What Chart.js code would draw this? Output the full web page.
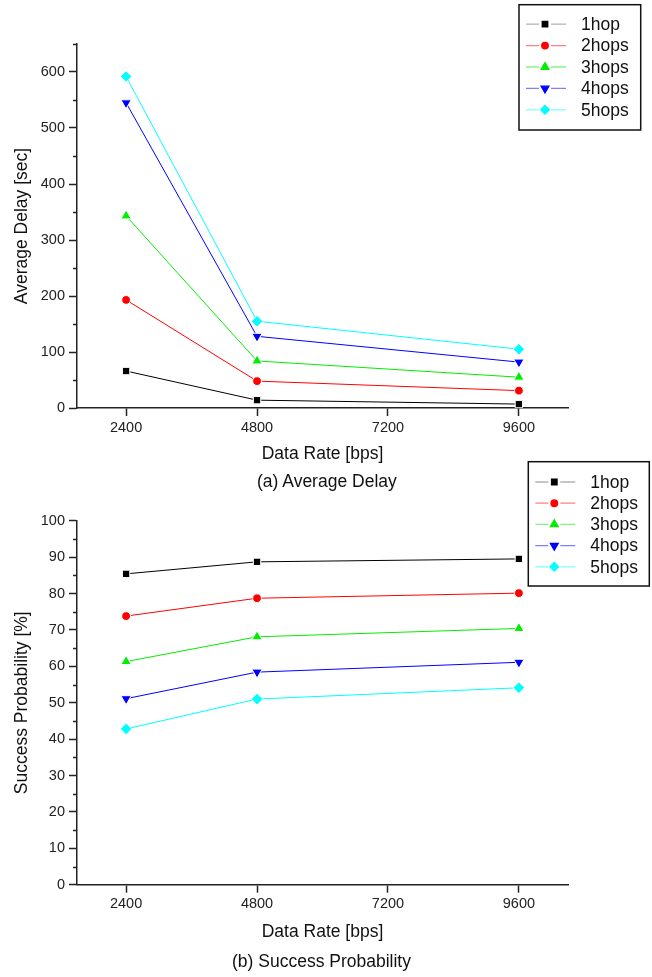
<!DOCTYPE html>
<html>
<head>
<meta charset="utf-8">
<script src="https://cdn.jsdelivr.net/npm/chart.js@4.4.0/dist/chart.umd.min.js"></script>
<style>
    body { margin: 0; background: #fff; }
    #page { position: relative; width: 652px; height: 977px; overflow: hidden; }
    canvas { position: absolute; left: 0; }
    .caption {
        position: absolute; white-space: nowrap;
        font: 17.5px 'Liberation Sans', Arial, sans-serif;
        line-height: 21px; color: #111;
    }
</style>
</head>
<body>
<div id="page">
    <canvas id="delayChart" width="652" height="470" style="top:0"></canvas>
    <canvas id="successChart" width="652" height="527" style="top:450px"></canvas>
    <div class="caption" style="left:257px; top:471px">(a) Average Delay</div>
    <div class="caption" style="left:232px; top:951px">(b) Success Probability</div>
</div>
<script>
// data rates [bps]
const rates = [2400, 4800, 9600];
const rateTicks = [2400, 4800, 7200, 9600];
const hopLabels = ['1hop', '2hops', '3hops', '4hops', '5hops'];

// (a) average delay [sec]
const delay1hop = [66, 14, 7];
const delay2hops = [193, 48, 31];
const delay3hops = [343, 84, 55];
const delay4hops = [545, 128, 82];
const delay5hops = [592, 155, 105];
const delayTicks = [0, 100, 200, 300, 400, 500, 600];

// (b) success probability [%]
const success1hop = [85.4, 88.7, 89.5];
const success2hops = [73.8, 78.7, 80.1];
const success3hops = [61.3, 68.1, 70.4];
const success4hops = [51.1, 58.4, 61.1];
const success5hops = [42.8, 51.0, 54.1];
const successTicks = [0, 10, 20, 30, 40, 50, 60, 70, 80, 90, 100];

const seriesStyles = [
    { color: '#000000', pointStyle: 'rect', rotation: 0, radius: 5.2 },
    { color: '#ff0000', pointStyle: 'circle', rotation: 0, radius: 4.4 },
    { color: '#00ee00', pointStyle: 'triangle', rotation: 0, radius: 6 },
    { color: '#0000ff', pointStyle: 'triangle', rotation: 180, radius: 6 },
    { color: '#00ffff', pointStyle: 'rectRot', rotation: 0, radius: 5.8 }
];

const FONT = "'Liberation Sans', Arial, sans-serif";
const AXIS = '#222';
Chart.defaults.font.family = FONT;
Chart.defaults.color = AXIS;

function withAlpha(hex, a) {
    const n = parseInt(hex.slice(1), 16);
    return `rgba(${n >> 16}, ${(n >> 8) & 255}, ${n & 255}, ${a})`;
}

// boxed legend placed over the top right corner, like the original figure
const boxLegend = {
    id: 'boxLegend',
    afterDraw(chart, args, opts) {
        const ctx = chart.ctx;
        ctx.save();
        ctx.lineWidth = 1.5;
        ctx.strokeStyle = '#111';
        ctx.fillStyle = '#fff';
        ctx.fillRect(opts.left, opts.top, opts.width, opts.height);
        ctx.strokeRect(opts.left, opts.top, opts.width, opts.height);
        ctx.font = '17.5px ' + FONT;
        ctx.textBaseline = 'middle';
        chart.data.datasets.forEach((ds, i) => {
            const y = opts.top + opts.firstRow + i * opts.rowStep;
            const mx = opts.left + 26;
            ctx.strokeStyle = withAlpha(ds.borderColor, ds.borderColor === '#000000' ? 0.3 : 0.5);
            ctx.lineWidth = 1.3;
            ctx.beginPath();
            ctx.moveTo(opts.left + 7, y);
            ctx.lineTo(mx - 6, y);
            ctx.moveTo(mx + 6, y);
            ctx.lineTo(opts.left + 47, y);
            ctx.stroke();
            ctx.fillStyle = ds.borderColor;
            ctx.strokeStyle = ds.borderColor;
            Chart.helpers.drawPoint(ctx, {
                pointStyle: ds.pointStyle,
                rotation: ds.pointRotation,
                radius: ds.pointRadius * 0.75,
                borderWidth: 0.5
            }, mx, y);
            ctx.fillStyle = '#111';
            ctx.fillText(ds.label, opts.left + 62, y + 1);
        });
        ctx.restore();
    }
};

// short minor ticks between the labelled ones on the y axis
const minorTicks = {
    id: 'minorTicks',
    afterDraw(chart, args, opts) {
        const y = chart.scales.y;
        const ctx = chart.ctx;
        ctx.save();
        ctx.strokeStyle = AXIS;
        ctx.lineWidth = 1.5;
        for (let v = y.min + opts.step; v <= y.max; v += opts.step * 2) {
            const py = Math.round(y.getPixelForValue(v)) + 0.5;
            ctx.beginPath();
            ctx.moveTo(y.right - 4, py);
            ctx.lineTo(y.right, py);
            ctx.stroke();
        }
        ctx.restore();
    }
};

function buildDatasets(seriesList) {
    return seriesList.map((values, i) => {
        const s = seriesStyles[i];
        return {
            label: hopLabels[i],
            data: rates.map((r, j) => ({ x: r, y: values[j] })),
            borderColor: s.color,
            backgroundColor: s.color,
            borderWidth: 1,
            pointStyle: s.pointStyle,
            pointRotation: s.rotation,
            pointRadius: s.radius,
            pointBackgroundColor: s.color,
            pointBorderColor: '#ffffff',
            pointBorderWidth: 1,
            tension: 0
        };
    });
}

function initChart(id, seriesList, yTitle, yTicks, yMax, minorStep, layout, legend) {
    const ctx = document.getElementById(id);
    return new Chart(ctx, {
        type: 'line',
        data: { datasets: buildDatasets(seriesList) },
        options: {
            responsive: false,
            animation: false,
            layout: { padding: layout.padding },
            plugins: {
                legend: { display: false },
                tooltip: { enabled: false },
                boxLegend: legend,
                minorTicks: { step: minorStep }
            },
            scales: {
                x: {
                    type: 'linear',
                    min: 1500,
                    max: 10500,
                    afterBuildTicks: scale => { scale.ticks = rateTicks.map(v => ({ value: v })); },
                    afterFit: scale => { scale.height = layout.xHeight; },
                    border: { color: AXIS, width: 1.5 },
                    grid: { drawOnChartArea: false, drawTicks: true, tickLength: 8, tickColor: AXIS, tickWidth: 1.5 },
                    ticks: { font: { size: 14.5 }, padding: 3, maxRotation: 0, callback: v => String(v) },
                    title: { display: true, text: 'Data Rate [bps]', font: { size: 17.5 }, color: '#111', padding: { top: 0, bottom: 0 } }
                },
                y: {
                    min: 0,
                    max: yMax,
                    afterBuildTicks: scale => { scale.ticks = yTicks.map(v => ({ value: v })); },
                    afterFit: scale => { scale.width = 77; },
                    border: { color: AXIS, width: 1.5 },
                    grid: { drawOnChartArea: false, drawTicks: true, tickLength: 8, tickColor: AXIS, tickWidth: 1.5 },
                    ticks: { font: { size: 14.5 }, padding: 4, callback: v => String(v) },
                    title: { display: true, text: yTitle, font: { size: 17.5 }, color: '#111', padding: { top: 12, bottom: 0 } }
                }
            }
        },
        plugins: [boxLegend, minorTicks]
    });
}

initChart('delayChart',
    [delay1hop, delay2hops, delay3hops, delay4hops, delay5hops],
    'Average Delay [sec]', delayTicks, 650, 50,
    { padding: { left: 0, right: 84, top: 44, bottom: 5.5 }, xHeight: 56.5 },
    { left: 519, top: 4.7, width: 121.7, height: 125.3, firstRow: 19.5, rowStep: 21.4 });

initChart('successChart',
    [success1hop, success2hops, success3hops, success4hops, success5hops],
    'Success Probability [%]', successTicks, 100, 5,
    { padding: { left: 0, right: 84, top: 70.7, bottom: 34.8 }, xHeight: 57.5 },
    { left: 528.3, top: 11.7, width: 121, height: 124.3, firstRow: 20.3, rowStep: 21.2 });
</script>
</body>
</html>
